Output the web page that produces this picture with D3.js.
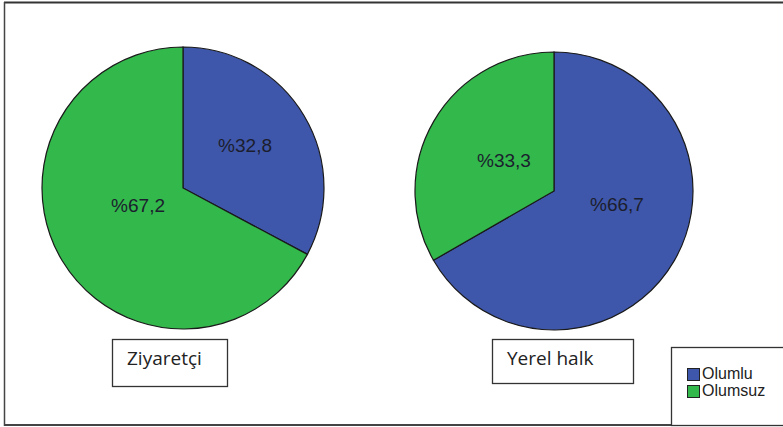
<!DOCTYPE html>
<html><head><meta charset="utf-8">
<script src="https://cdn.jsdelivr.net/npm/d3@7"></script>
<style>html,body{margin:0;padding:0;background:#fff;}svg{display:block;}</style>
</head><body>
<svg id="c" width="783" height="427"></svg>
<script>
const groups = ["Ziyaretçi", "Yerel halk"];
const categories = ["Olumlu", "Olumsuz"];
const ziyaretciValues = [32.8, 67.2];
const yerelHalkValues = [66.7, 33.3];
const seriesValues = [ziyaretciValues, yerelHalkValues];
const colors = ["#3f57ab", "#33b84b"];

const svg = d3.select("#c");
const W = 783, H = 427;

// frame
svg.append("line").attr("x1", 4).attr("x2", W).attr("y1", 2.5).attr("y2", 2.5).attr("stroke", "#333").attr("stroke-width", 2);
svg.append("line").attr("x1", 4.5).attr("x2", 4.5).attr("y1", 2).attr("y2", 426).attr("stroke", "#444").attr("stroke-width", 1.5);
svg.append("line").attr("x1", 4).attr("x2", W).attr("y1", 425).attr("y2", 425).attr("stroke", "#444").attr("stroke-width", 2);

const pies = [
  {cx: 183, cy: 188, r: 141, box: [112, 339, 115, 47]},
  {cx: 554, cy: 191, r: 139, box: [492, 339, 141, 44]}
];
// label placement (radius fraction, angle in degrees clockwise from 12 o'clock)
const labelPos = [
  [{rf: 0.531, a: 56}, {rf: 0.344, a: 248}],
  [{rf: 0.464, a: 102.5}, {rf: 0.42, a: 301}]
];

const pie = d3.pie().sort(null).value(d => d);
const fmt = v => "%" + d3.format(".1f")(v).replace(".", ",");

pies.forEach((p, i) => {
  const g = svg.append("g").attr("transform", `translate(${p.cx},${p.cy})`);
  const arc = d3.arc().innerRadius(0).outerRadius(p.r);
  const arcs = pie(seriesValues[i]);
  g.selectAll("path").data(arcs).join("path")
    .attr("d", arc)
    .attr("fill", (d, j) => colors[j])
    .attr("stroke", "#1a1a1a").attr("stroke-width", 1.2);
  g.selectAll("text").data(arcs).join("text")
    .attr("x", (d, j) => p.r * labelPos[i][j].rf * Math.sin(labelPos[i][j].a * Math.PI / 180))
    .attr("y", (d, j) => -p.r * labelPos[i][j].rf * Math.cos(labelPos[i][j].a * Math.PI / 180))
    .attr("text-anchor", "middle").attr("dominant-baseline", "central")
    .attr("font-family", "Liberation Sans, Arial, sans-serif").attr("font-size", 18)
    .attr("fill", "#1b1e2e")
    .attr("textLength", 54).attr("lengthAdjust", "spacingAndGlyphs")
    .text(d => fmt(d.data));
  // group label box
  const [bx, by, bw, bh] = p.box;
  svg.append("rect").attr("x", bx + 0.5).attr("y", by + 0.5).attr("width", bw).attr("height", bh)
    .attr("fill", "#fff").attr("stroke", "#333").attr("stroke-width", 1.3);
  svg.append("text").attr("x", bx + 15).attr("y", 365)
    .attr("font-family", "Open Sans, sans-serif").attr("font-size", 19).attr("fill", "#222")
    .text(groups[i]);
});

// legend
svg.append("rect").attr("x", 671.5).attr("y", 347.5).attr("width", 115).attr("height", 78)
  .attr("fill", "#fff").attr("stroke", "#333").attr("stroke-width", 1.3);
const lg = svg.append("g");
categories.forEach((c, j) => {
  const y = 368 + j * 17;
  lg.append("rect").attr("x", 687.5).attr("y", y + 0.5).attr("width", 12).attr("height", 12)
    .attr("fill", colors[j]).attr("stroke", "#222").attr("stroke-width", 1);
  lg.append("text").attr("x", 702).attr("y", y + 11)
    .attr("font-family", "Liberation Sans, Arial, sans-serif").attr("font-size", 16).attr("fill", "#222")
    .text(c);
});
</script>
</body></html>
